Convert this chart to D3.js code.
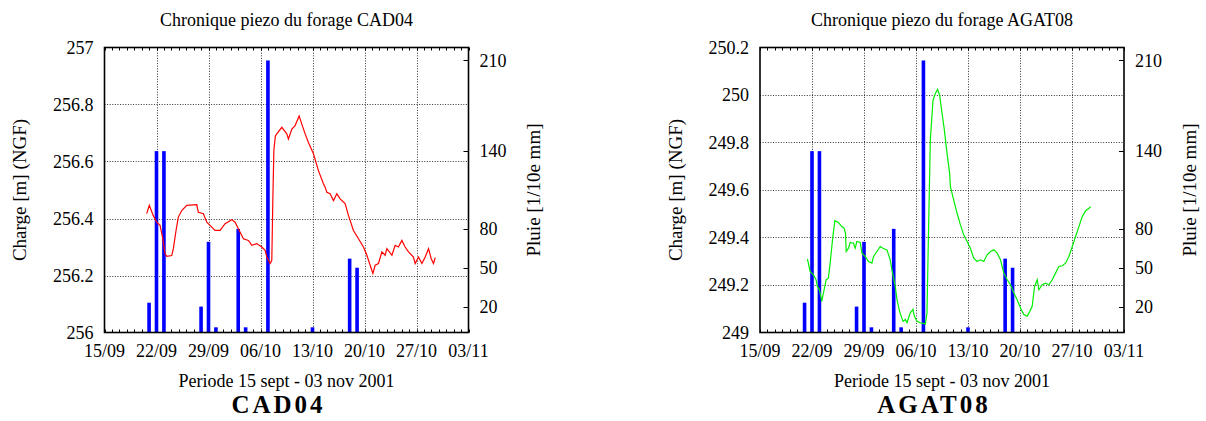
<!DOCTYPE html>
<html><head><meta charset="utf-8">
<script src="https://cdnjs.cloudflare.com/ajax/libs/d3/7.8.5/d3.min.js"></script>
<style>
html,body{margin:0;padding:0;background:#fff;}
svg{display:block;}
text{font-family:"Liberation Serif","Times New Roman",serif;}
</style></head><body>
<svg id="fig" width="1206" height="421"></svg>
<script>
// ---- data ----
const dayTicks = [0, 7, 14, 21, 28, 35, 42, 49]; // days since 15 Sept 2001
const dayTickLabels = ["15/09", "22/09", "29/09", "06/10", "13/10", "20/10", "27/10", "03/11"];

const rainDays = [6, 7, 8, 13, 14, 15, 18, 19, 22, 28, 33, 34];
const rainValues = [23, 140, 140, 20, 70, 4, 80, 4, 210, 4, 57, 50];
const rainTicks = [20, 50, 80, 140, 210];

const cad04Ticks = [256, 256.2, 256.4, 256.6, 256.8, 257];
const cad04TickLabels = ["256", "256.2", "256.4", "256.6", "256.8", "257"];
const cad04Days = [5.68, 6.03, 6.57, 7.03, 7.48, 7.84, 8.15, 8.38, 9.05, 9.27, 9.63, 9.94, 10.40, 11.07, 12.42, 12.63, 13.31, 13.77, 14.44, 14.88, 15.56, 16.23, 17.13, 17.58, 18.02, 18.70, 19.37, 19.83, 20.50, 21.17, 21.62, 21.85, 22.29, 22.52, 22.65, 22.80, 23.00, 23.19, 23.87, 24.54, 24.76, 25.22, 25.66, 26.20, 26.56, 27.01, 27.45, 28.13, 28.80, 29.47, 29.70, 29.93, 30.37, 30.82, 31.28, 31.72, 32.39, 32.84, 33.51, 34.19, 34.86, 35.32, 35.76, 36.13, 36.44, 36.88, 37.34, 37.78, 38.01, 38.69, 39.13, 39.57, 40.03, 40.47, 40.92, 41.59, 41.82, 42.27, 42.73, 43.17, 43.62, 43.98, 44.29, 44.52];
const cad04Values = [256.417, 256.446, 256.410, 256.387, 256.376, 256.330, 256.277, 256.267, 256.270, 256.294, 256.358, 256.405, 256.428, 256.446, 256.449, 256.422, 256.417, 256.387, 256.370, 256.358, 256.358, 256.382, 256.396, 256.387, 256.364, 256.329, 256.323, 256.306, 256.312, 256.300, 256.288, 256.265, 256.242, 256.253, 256.450, 256.640, 256.690, 256.697, 256.720, 256.697, 256.679, 256.714, 256.726, 256.760, 256.731, 256.697, 256.667, 256.627, 256.568, 256.522, 256.510, 256.492, 256.487, 256.463, 256.487, 256.469, 256.452, 256.411, 256.358, 256.329, 256.300, 256.271, 256.236, 256.207, 256.236, 256.242, 256.283, 256.271, 256.294, 256.271, 256.306, 256.300, 256.323, 256.300, 256.283, 256.265, 256.242, 256.265, 256.242, 256.265, 256.294, 256.259, 256.242, 256.263];

const agat08Ticks = [249, 249.2, 249.4, 249.6, 249.8, 250, 250.2];
const agat08TickLabels = ["249", "249.2", "249.4", "249.6", "249.8", "250", "250.2"];
const agat08Days = [6.38, 6.51, 6.74, 7.19, 7.55, 7.73, 8.00, 8.32, 8.63, 8.90, 9.21, 9.44, 9.81, 10.08, 10.56, 11.02, 11.33, 11.51, 11.60, 11.91, 12.14, 12.58, 12.81, 13.04, 13.49, 13.72, 14.16, 14.61, 15.07, 15.28, 15.74, 16.19, 16.55, 17.09, 17.53, 17.76, 18.21, 18.44, 18.79, 19.25, 19.56, 19.79, 20.23, 20.60, 20.77, 21.14, 21.58, 22.26, 22.48, 22.70, 22.93, 23.29, 23.60, 23.91, 24.18, 24.51, 24.82, 25.18, 25.53, 25.63, 26.07, 26.53, 26.98, 27.42, 27.88, 28.32, 28.77, 29.23, 29.67, 30.12, 30.57, 31.02, 31.47, 31.93, 32.37, 32.82, 33.28, 33.72, 34.17, 34.62, 35.07, 35.51, 35.97, 36.32, 36.64, 36.96, 37.32, 37.54, 37.99, 38.44, 38.89, 39.34, 39.79, 40.23, 40.69, 41.13, 41.58, 42.04, 42.48, 42.93, 43.38, 43.84, 44.28, 44.51];
const agat08Values = [249.309, 249.292, 249.257, 249.243, 249.222, 249.194, 249.180, 249.131, 249.180, 249.222, 249.229, 249.292, 249.404, 249.471, 249.463, 249.446, 249.439, 249.418, 249.341, 249.355, 249.379, 249.376, 249.355, 249.383, 249.379, 249.334, 249.320, 249.299, 249.292, 249.320, 249.341, 249.362, 249.355, 249.348, 249.306, 249.264, 249.194, 249.138, 249.089, 249.047, 249.055, 249.041, 249.083, 249.097, 249.069, 249.047, 249.041, 249.036, 249.083, 249.450, 249.810, 249.978, 250.006, 250.023, 249.999, 249.922, 249.852, 249.754, 249.670, 249.614, 249.558, 249.502, 249.453, 249.411, 249.383, 249.355, 249.313, 249.299, 249.306, 249.299, 249.327, 249.341, 249.348, 249.334, 249.306, 249.250, 249.222, 249.201, 249.166, 249.138, 249.103, 249.076, 249.069, 249.089, 249.110, 249.194, 249.222, 249.180, 249.201, 249.208, 249.201, 249.222, 249.250, 249.278, 249.281, 249.292, 249.320, 249.362, 249.404, 249.446, 249.488, 249.513, 249.523, 249.530];

// ---- drawing ----
const svg = d3.select("#fig");
const FONT = "'Liberation Serif', 'Times New Roman', serif";

function drawPanel(opt) {
  const L = opt.left, T = 47.5, W = 364, H = 285;
  const g = svg.append("g");
  const x = d3.scaleLinear().domain([0, 49]).range([L, L + W]);
  const y = d3.scaleLinear().domain(opt.yDomain).range([T + H, T]);
  const y2 = d3.scaleLinear().domain([0, 220]).range([T + H, T]);

  // grid
  const grid = g.append("g").attr("stroke", "#333").attr("stroke-width", 1).attr("stroke-dasharray", "1,1.6");
  grid.selectAll("line.v").data(dayTicks.slice(1, -1)).join("line")
    .attr("x1", d => Math.round(x(d)) + 0.5).attr("x2", d => Math.round(x(d)) + 0.5)
    .attr("y1", T).attr("y2", T + H);
  grid.selectAll("line.h").data(opt.yTicks.slice(1, -1)).join("line")
    .attr("x1", L).attr("x2", L + W)
    .attr("y1", d => Math.round(y(d)) + 0.5).attr("y2", d => Math.round(y(d)) + 0.5);

  // minor daily ticks (inside, top and bottom)
  const days = d3.range(0, 50);
  const mt = g.append("g").attr("stroke", "#000").attr("stroke-width", 1);
  mt.selectAll("line.b").data(days).join("line")
    .attr("x1", d => Math.round(x(d)) + 0.5).attr("x2", d => Math.round(x(d)) + 0.5)
    .attr("y1", T + H).attr("y2", T + H - 3);
  mt.selectAll("line.t").data(days).join("line")
    .attr("x1", d => Math.round(x(d)) + 0.5).attr("x2", d => Math.round(x(d)) + 0.5)
    .attr("y1", T).attr("y2", T + 3);
  // right axis ticks
  mt.selectAll("line.r").data(rainTicks).join("line")
    .attr("x1", L + W).attr("x2", L + W - 5)
    .attr("y1", d => Math.round(y2(d)) + 0.5).attr("y2", d => Math.round(y2(d)) + 0.5);

  // rain bars
  g.append("g").selectAll("rect").data(rainDays.map((d, i) => [d, rainValues[i]])).join("rect")
    .attr("x", d => x(d[0]) - 1.8).attr("width", 3.6)
    .attr("y", d => y2(d[1])).attr("height", d => y2(0) - y2(d[1]))
    .attr("fill", "#0000ff");

  // piezo line
  const pts = opt.days.map((d, i) => [d, opt.values[i]]);
  g.append("path").datum(pts)
    .attr("d", d3.line().x(d => x(d[0])).y(d => y(d[1])))
    .attr("fill", "none").attr("stroke", opt.color).attr("stroke-width", 1.2);

  // frame
  g.append("rect").attr("x", L).attr("y", T).attr("width", W).attr("height", H)
    .attr("fill", "none").attr("stroke", "#000").attr("stroke-width", 1.6);

  const fs = "18px";
  const txt = sel => sel.attr("font-family", FONT).attr("fill", "#000");
  // left tick labels
  g.append("g").selectAll("text").data(opt.yTicks).join("text").call(txt)
    .attr("x", L - 11).attr("y", d => y(d)).attr("dy", "0.35em")
    .attr("text-anchor", "end").attr("font-size", fs)
    .text((d, i) => opt.yTickLabels[i]);
  // right tick labels
  g.append("g").selectAll("text").data(rainTicks).join("text").call(txt)
    .attr("x", L + W + 11).attr("y", d => y2(d)).attr("dy", "0.35em")
    .attr("text-anchor", "start").attr("font-size", fs)
    .text(d => d);
  // x tick labels
  g.append("g").selectAll("text").data(dayTicks).join("text").call(txt)
    .attr("x", d => x(d)).attr("y", 357)
    .attr("text-anchor", "middle").attr("font-size", fs)
    .text((d, i) => dayTickLabels[i]);

  const cx = L + W / 2;
  g.append("text").call(txt).attr("x", cx).attr("y", 26).attr("text-anchor", "middle")
    .attr("font-size", fs).text(opt.title);
  g.append("text").call(txt).attr("x", cx).attr("y", 387).attr("text-anchor", "middle")
    .attr("font-size", fs).text("Periode 15 sept - 03 nov 2001");
  g.append("text").call(txt).attr("transform", `translate(${L - 85},${T + H / 2}) rotate(-90)`)
    .attr("text-anchor", "middle").attr("dy", "0.35em").attr("font-size", "19px")
    .text("Charge [m] (NGF)");
  g.append("text").call(txt).attr("transform", `translate(${L + W + 65},${T + H / 2}) rotate(-90)`)
    .attr("text-anchor", "middle").attr("dy", "0.35em").attr("font-size", "19px")
    .text("Pluie [1/10e mm]");
  g.append("text").call(txt).attr("x", cx - 8).attr("y", 413).attr("text-anchor", "middle")
    .attr("font-size", "25px").attr("font-weight", "bold").attr("letter-spacing", "3px")
    .text(opt.name);
}

drawPanel({ left: 104.5, name: "CAD04", title: "Chronique piezo du forage CAD04",
  yDomain: [256, 257], yTicks: cad04Ticks, yTickLabels: cad04TickLabels,
  days: cad04Days, values: cad04Values, color: "#ff0000" });
drawPanel({ left: 760, name: "AGAT08", title: "Chronique piezo du forage AGAT08",
  yDomain: [249, 250.2], yTicks: agat08Ticks, yTickLabels: agat08TickLabels,
  days: agat08Days, values: agat08Values, color: "#00ee00" });
</script>
</body></html>
